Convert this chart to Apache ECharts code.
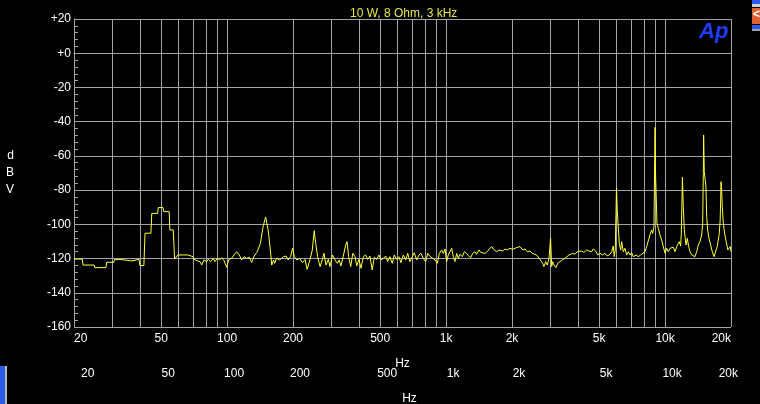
<!DOCTYPE html>
<html>
<head>
<meta charset="utf-8">
<script src="https://cdn.jsdelivr.net/npm/echarts@6/dist/echarts.min.js"></script>
<style>
html,body{margin:0;padding:0;background:#000;}
#chart{width:760px;height:404px;}
</style>
</head>
<body>
<div id="chart"></div>
<script>
// Frequency (Hz) of each trace point
const freqs = [
20,21.8,22,24.7,24.9,28,28.2,30.4,30.6,33.1,33.5,36.8,37,39.6,40,41.7,42.2,44.9,45.3,48.2,
48.5,51,51.4,54.4,54.8,56.8,57.6,59.7,66.3,66.8,69.9,70.6,72.7,75.2,76.6,78.4,80.7,82.1,84.2,86.5,
88,90.2,92.5,94.5,96.8,99.6,102,104.9,107.5,110.6,113.7,116.6,119.5,122.9,126.3,129.5,133,137,142,146,
150,154,157,160,163,165,168,174,181,186,190,195,199,203,208,214,221,227,232,239,
245,250,254,259,266,272,277,283,290,295,303,311,319,325,331,339,348,353,359,367,
375,384,391,400,409,419,429,439,449,460,470,482,494,504,517,530,541,554,568,580,
595,609,622,638,654,668,684,701,716,734,752,768,787,807,824,844,869,890,912,931,
955,971,989,1006,1023,1042,1061,1079,1098,1118,1137,1157,1186,1211,1242,1263,1295,1323,1355,1379,
1413,1439,1469,1505,1542,1575,1615,1643,1673,1702,1744,1775,1813,1857,1903,1958,2006,2048,2101,2137,
2175,2238,2293,2349,2416,2475,2546,2608,2664,2712,2761,2799,2850,2898,2951,3000,3035,3067,3110,3176,
3234,3313,3394,3491,3554,3641,3707,3786,3878,3973,4057,4161,4263,4385,4492,4622,4700,4821,4923,5044,
5190,5317,5447,5602,5703,5800,5861,5923,6000,6048,6113,6178,6269,6335,6442,6559,6678,6792,6914,7039,
7158,7364,7544,7737,7901,8095,8241,8381,8532,8686,8779,8898,8950,9000,9050,9184,9310,9478,9649,9813,
10000,10170,10340,10530,10720,10900,11100,11300,11490,11610,11780,11860,12000,12110,12240,12460,12630,12820,12990,13230,
13450,13690,13940,14180,14430,14690,14850,14950,15000,15100,15370,15490,15650,15870,16150,16430,16730,17020,17310,17490,
17680,17850,17950,18000,18100,18250,18450,18700,18950,19350,19600,19850,20000
];
// Level (dBV) of each trace point
const levels = [
-120.3,-120.3,-123.8,-123.8,-125.3,-125.3,-122.2,-122.2,-120.6,-120.6,-121.4,-121.4,-120.4,-120.4,-124.1,-124.1,-105.2,-105.2,-93.6,-93.6,
-90.2,-90.2,-92.6,-92.6,-103.3,-103.3,-120.3,-117.9,-117.9,-118.9,-118.9,-120.4,-121.2,-121.8,-123.8,-120.8,-121.8,-120.4,-121.8,-119.9,
-121.8,-119.9,-120.8,-119.5,-121.2,-125.1,-120.4,-119.9,-117.9,-116.0,-117.9,-120.8,-118.9,-119.9,-119.3,-122.3,-118.5,-116.3,-111.1,-101.4,
-95.7,-103.3,-113.0,-123.8,-120.8,-122.8,-119.9,-120.8,-118.9,-118.5,-120.8,-118.9,-114.0,-118.9,-120.8,-119.9,-122.4,-120.5,-126.3,-120.8,
-115.0,-103.7,-111.1,-118.9,-124.7,-120.8,-116.9,-123.8,-120.5,-124.7,-117.9,-120.8,-122.8,-120.8,-124.3,-118.9,-112.1,-110.1,-118.9,-124.7,
-116.9,-118.9,-124.3,-120.5,-125.7,-118.9,-117.9,-120.5,-118.5,-126.7,-119.3,-120.5,-117.9,-120.8,-119.9,-118.5,-121.8,-118.9,-122.8,-117.9,
-120.5,-118.9,-122.4,-117.9,-120.8,-116.9,-121.8,-118.9,-116.6,-120.8,-117.9,-116.9,-119.9,-121.8,-116.9,-118.7,-119.9,-120.8,-122.8,-117.0,
-115.0,-117.0,-114.4,-121.8,-117.9,-116.0,-114.0,-118.9,-121.8,-117.0,-119.9,-117.5,-118.9,-116.0,-117.0,-118.3,-119.5,-117.0,-116.0,-117.5,
-115.0,-116.4,-115.6,-117.0,-116.0,-114.4,-113.0,-114.4,-113.6,-116.0,-115.0,-114.0,-115.6,-114.4,-115.0,-114.0,-114.6,-114.0,-113.6,-114.6,
-113.0,-115.0,-114.4,-116.0,-115.6,-117.0,-117.5,-118.3,-119.9,-119.5,-122.8,-124.7,-121.8,-123.8,-119.9,-108.2,-124.7,-121.8,-123.8,-125.3,
-122.8,-121.8,-120.8,-119.9,-118.9,-117.9,-118.9,-117.0,-117.5,-116.0,-117.0,-115.6,-116.4,-115.0,-115.6,-116.0,-114.4,-115.6,-117.9,-116.9,
-117.9,-116.9,-118.5,-117.5,-116.0,-112.7,-118.9,-115.0,-78.9,-91.6,-101.4,-111.1,-115.0,-110.1,-116.0,-114.0,-117.9,-116.0,-117.9,-116.6,
-118.9,-117.9,-118.9,-117.9,-116.9,-116.0,-113.0,-112.1,-106.2,-103.3,-105.3,-101.4,-71.2,-43.3,-71.2,-99.4,-102.3,-106.2,-109.2,-113.0,
-116.9,-114.0,-116.0,-114.0,-115.0,-113.4,-116.0,-113.0,-114.0,-110.1,-112.7,-105.3,-72.5,-89.7,-103.3,-112.1,-108.2,-113.0,-116.0,-117.9,
-116.9,-118.9,-116.0,-112.1,-110.1,-106.2,-99.4,-70.2,-47.8,-69.2,-78.0,-95.5,-103.3,-108.2,-112.1,-116.0,-118.9,-117.9,-113.0,-109.2,
-105.3,-97.5,-84.8,-75.1,-78.0,-89.7,-99.4,-105.3,-109.2,-115.0,-116.0,-113.0,-116.0
];
// Axis tick / label values
const xGridValues = [20,30,40,50,60,70,80,90,100,200,300,400,500,600,700,800,900,1000,2000,3000,4000,5000,6000,7000,8000,9000,10000,20000];
const xLabelValues = [20,50,100,200,500,1000,2000,5000,10000,20000];
const yMin = -160, yMax = 20, yStep = 20;
const titleText = '10 W, 8 Ohm, 3 kHz';

const FONT = '"Liberation Sans", Arial, sans-serif';
const GRID_COLOR = '#a3a3a3';
const fmtHz = v => v >= 1000 ? (v / 1000) + 'k' : String(v);
const fmtDb = v => v >= 0 ? '+' + v : String(v);

const chart = echarts.init(document.getElementById('chart'), null, {renderer: 'canvas'});
const data = freqs.map((f, i) => [f, levels[i]]);

chart.setOption({
  backgroundColor: '#000',
  animation: false,
  textStyle: {fontFamily: FONT},
  title: {
    text: titleText, left: 345, top: 3,
    textStyle: {color: '#e6e650', fontSize: 12, fontWeight: 'normal', fontFamily: FONT}
  },
  grid: [
    {left: 74, right: 29, top: 19, bottom: 77, outerBoundsMode: 'none', containLabel: false},
    {left: 81, right: 22, top: 340, height: 22, outerBoundsMode: 'none', containLabel: false}
  ],
  xAxis: [
    {
      type: 'log', logBase: 10, min: 20, max: 20000, gridIndex: 0,
      axisLine: {show: true, lineStyle: {color: GRID_COLOR, width: 1}},
      axisTick: {show: false, customValues: xGridValues},
      splitLine: {show: true, lineStyle: {color: GRID_COLOR, width: 1}},
      minorTick: {show: false}, minorSplitLine: {show: false},
      axisLabel: {
        customValues: xLabelValues, color: '#fff', fontSize: 12, fontFamily: FONT,
        margin: 6, formatter: fmtHz, alignMinLabel: 'left', alignMaxLabel: 'right'
      },
      name: 'Hz', nameLocation: 'middle', nameGap: 31,
      nameTextStyle: {color: '#fff', fontSize: 12, fontFamily: FONT}
    },
    {
      type: 'log', logBase: 10, min: 20, max: 20000, gridIndex: 1,
      axisLine: {show: false}, axisTick: {show: false, customValues: xLabelValues},
      splitLine: {show: false},
      axisLabel: {
        customValues: xLabelValues, color: '#fff', fontSize: 12, fontFamily: FONT,
        margin: 6, formatter: fmtHz, alignMinLabel: 'left', alignMaxLabel: 'right'
      },
      name: 'Hz', nameLocation: 'middle', nameGap: 31,
      nameTextStyle: {color: '#fff', fontSize: 12, fontFamily: FONT}
    }
  ],
  yAxis: [
    {
      type: 'value', min: yMin, max: yMax, interval: yStep, gridIndex: 0,
      axisLine: {show: true, lineStyle: {color: GRID_COLOR, width: 1}},
      axisTick: {show: true, inside: true, length: 4, lineStyle: {color: GRID_COLOR}},
      minorTick: {show: true, splitNumber: 5, length: 4, lineStyle: {color: GRID_COLOR}},
      splitLine: {show: true, lineStyle: {color: GRID_COLOR, width: 1}},
      axisLabel: {color: '#fff', fontSize: 12, fontFamily: FONT, margin: 3, formatter: fmtDb},
      name: 'd\nB\nV', nameLocation: 'middle', nameRotate: 0, nameGap: 60,
      nameTextStyle: {color: '#fff', fontSize: 12, fontFamily: FONT, lineHeight: 17, padding: [12, 0, 0, 0]}
    },
    {type: 'value', gridIndex: 1, show: false, min: 0, max: 1}
  ],
  series: [{
    type: 'line', xAxisIndex: 0, yAxisIndex: 0, data: data,
    showSymbol: false, symbol: 'none', smooth: false,
    lineStyle: {color: '#ffff3a', width: 1}, itemStyle: {color: '#ffff3a'},
    emphasis: {disabled: true}
  }],
  graphic: [
    {type: 'text', left: 699, top: 21, style: {text: 'Ap', fill: '#1e3cff', font: 'italic bold 22px "Liberation Sans", Arial, sans-serif'}},
    {type: 'rect', left: 0, top: 366, shape: {width: 5, height: 38}, style: {fill: '#2a5ae8'}},
    {type: 'rect', left: 5, top: 366, shape: {width: 2, height: 38}, style: {fill: '#b8b8b8'}},
    {type: 'rect', left: 752, top: 0, shape: {width: 8, height: 4}, style: {fill: '#2a5ae8'}},
    {type: 'rect', left: 752, top: 4, shape: {width: 8, height: 3}, style: {fill: '#d0d0d0'}},
    {type: 'rect', left: 752, top: 8, shape: {width: 8, height: 16}, style: {fill: '#e06030'}},
    {type: 'text', left: 753, top: 9, style: {text: '<', fill: '#fff', font: 'bold 12px "Liberation Sans", Arial, sans-serif'}},
    {type: 'rect', left: 752, top: 25, shape: {width: 8, height: 4}, style: {fill: '#2a5ae8'}},
    {type: 'rect', left: 752, top: 29, shape: {width: 8, height: 2}, style: {fill: '#a0a0a0'}}
  ]
});
</script>
</body>
</html>
